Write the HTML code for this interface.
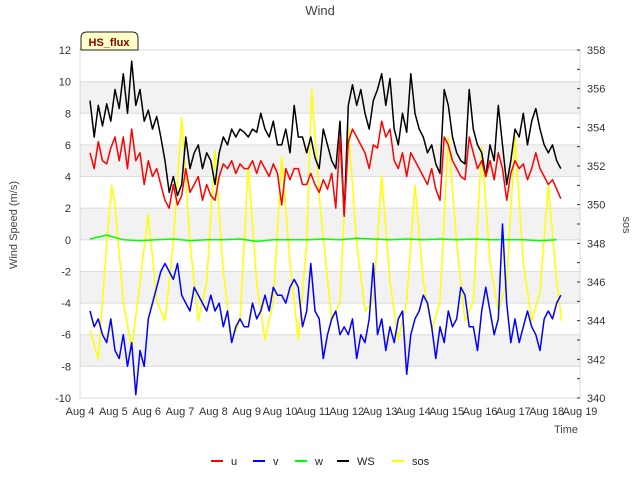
<!DOCTYPE html>
<html><head><meta charset="utf-8"><style>
body{margin:0;background:#fff;}
svg{display:block;font-family:"Liberation Sans","DejaVu Sans",sans-serif;}
</style></head><body>
<svg id="chart" width="640" height="480" viewBox="0 0 640 480">
<text x="320" y="15" text-anchor="middle" font-size="13" fill="#444">Wind</text>
<g id="bands"></g><g id="grid"></g>
<rect x="80" y="50" width="500" height="348" fill="none" stroke="#d8d8d8"/>
<g id="series"></g><g id="axes" font-size="11" fill="#333"></g>
<g>
<path d="M81,50 L81,38 Q81,32 87,32 L132,32 Q138,32 138,38 L138,50 Z" fill="#ffffc8" stroke="#222" stroke-width="1"/>
<text x="109" y="46" text-anchor="middle" font-size="11" font-weight="bold" fill="#8b0000">HS_flux</text>
</g>
<text x="566" y="433" text-anchor="middle" font-size="11" fill="#444">Time</text>
<text transform="translate(17,225) rotate(-90)" text-anchor="middle" font-size="11" fill="#444">Wind Speed (m/s)</text>
<text transform="translate(623,225) rotate(90)" text-anchor="middle" font-size="11" fill="#444">sos</text>
<g id="legend" font-size="11" fill="#222"></g>
</svg>
<script>
const uvStart = 0.3, uvStep = 0.125;
const wsValues = [8.8,6.5,8.5,7.2,8.6,7.5, 9.5,8.3,10.5,8,11.3,8.5,9.5,7.5, 8.2,7,7.8,6.5,5,3,4,2.8, 3.5,6.5,4.5,5.5,6,4.5,5.5,5, 3.5,5.5,6.5,6,7,6.5,7,6.8, 6.5,7,6.8,8,7,6.5,7.5,6, 6,7,5.5,8.5,6.5,6.5,5.5,6.5, 5.2,4.5,7,6,5,4.5,7.5,1.5, 8.5,9.8,8.5,9.5,8,7,8.8,9.5, 10.5,8.5,10.2,7,6,8,6.8,10.5, 8,7,6.5,5.5,6,4.8,4.2,9.5, 8.5,6.5,5.5,5,4.8,9.5,7,6, 5.5,4,6,5,8.5,6,3.5,5, 7,6.5,8,6,7.5,8.3,7,6, 5.5,6,5,4.5];
const uValues = [5.5,4.5,6.2,5,4.8,5.8, 6.5,5,6.5,4.5,7,5,5.5,3.5, 5,4,4.5,3.5,2.5,2,3.5,2.2, 2.8,4.5,3,3.5,4,2.5,3.5,2.8, 2.5,4,4.8,4.5,5,4.2,4.8,4.5, 4.5,5,4.2,5,4.5,4,4.8,4.2, 2.2,4.5,3.8,4.5,4.5,3.5,3.5,4.2, 3.5,3,3.8,3.2,4.2,2,6.5,1.5, 6.2,7,6.5,6,5.5,4.5,6,5.8, 7.5,6.5,7,5,4.5,5.5,4,5.5, 5,4.5,4,3.5,4.5,3.2,2.5,6.5, 6,5,4.5,4,3.8,6.5,5.5,4.5, 5,4,5,3.8,5.5,4.5,2.5,4.2, 5,4.5,4.8,3.8,4.5,5.5,4.5,4, 3.5,3.8,3.2,2.6];
const vValues = [-4.5,-5.5,-5,-6,-6.5,-5, -7,-7.5,-6,-8,-6.5,-9.8,-7,-8, -5,-4,-3,-2,-1.5,-2,-2.5,-1.5, -3.5,-4,-4.5,-3,-3.5,-4,-4.5,-3.5, -4.5,-4,-5.5,-4.5,-6.5,-5.5,-5,-5.5, -5.5,-4,-5,-4.5,-3.5,-4.5,-3,-3.5, -3.5,-4,-3,-2.5,-3,-5.5,-4.5,-1.5, -4.5,-5,-7.5,-6,-5,-4.5,-6,-5.5, -6,-5,-7.5,-6,-6.5,-5,-1.5,-6, -5,-7,-5.5,-6.5,-5,-4.5,-8.5,-6, -5,-4.5,-3.5,-4,-5.5,-7.5,-5.5,-6.5, -4.5,-5.5,-5,-3,-3.5,-5.5,-5.5,-7, -4.5,-3,-4.5,-6,-5,1,-4,-6.5, -5,-6.5,-5.5,-4.5,-5.5,-6,-7,-5, -4.5,-5,-4,-3.5];
const wStart = 0.3, wStep = 0.5;
const wValues = [0.05,0.3,0,-0.05,0,0.05,-0.05,0,0,0.05,-0.1,0,0,0,0.05,0,0.1,0.05,0,0.05,0,0.05,0,0.05,0,0,0,-0.05,0];
const sosTimes = [0.3,0.55,0.8,0.95,1.05,1.3,1.55,1.8,2.05,2.3,2.55,2.8,3.05,3.3,3.55,3.8,4.05,4.3,4.55,4.8,5.05,5.3,5.55,5.8,6.05,6.3,6.55,6.8,6.95,7.2,7.55,7.8,8.05,8.3,8.55,8.8,9.05,9.3,9.55,9.8,10.05,10.3,10.55,10.8,11.05,11.3,11.55,11.8,12.05,12.3,12.55,12.8,13.05,13.3,13.55,13.8,14.05,14.3,14.45];
const sosValues = [343.5,342,348,351,350,345,342.5,346,349.5,345,344,348,354.5,348,344,346,352.8,346.5,343,344,352,346,343,345,352.5,347,343,348,356,350,344,345,354,348,344.5,345,351.5,346,343,345,351,346,343.5,345,353.5,348,344,345,353,347,344.5,346,353.5,347,344,345.5,351,346,344];
const leftTicks = [-10,-8,-6,-4,-2,0,2,4,6,8,10,12];
const rightTicks = [340,342,344,346,348,350,352,354,356,358];
const xTickLabels = ["Aug 4","Aug 5","Aug 6","Aug 7","Aug 8","Aug 9","Aug 10","Aug 11","Aug 12","Aug 13","Aug 14","Aug 15","Aug 16","Aug 17","Aug 18","Aug 19"];
const shadedBands = [[8,10],[4,6],[0,2],[-4,-2],[-8,-6]];

const NS="http://www.w3.org/2000/svg";
const X0=80,X1=580,Y0=50,Y1=398;
const xs=t=>X0+(t/15)*(X1-X0);
const yl=v=>Y1-(v+10)/22*(Y1-Y0);
const yr=v=>Y1-(v-340)/18*(Y1-Y0);
function mk(tag,attrs,parent){const e=document.createElementNS(NS,tag);for(const k in attrs)e.setAttribute(k,attrs[k]);parent.appendChild(e);return e;}
const bands=document.getElementById('bands'),grid=document.getElementById('grid'),ser=document.getElementById('series'),axes=document.getElementById('axes'),leg=document.getElementById('legend');
shadedBands.forEach(b=>{const r=mk('rect',{x:X0,y:yl(b[1]),width:X1-X0,height:yl(b[0])-yl(b[1]),fill:'#f2f2f2'},bands);

});
leftTicks.forEach(v=>{const l=mk('line',{x1:X0,x2:X1,y1:yl(v),y2:yl(v),stroke:'#dcdcdc'},grid);


const t=mk('text',{x:71,y:yl(v)+4,'text-anchor':'end'},axes);t.textContent=v;

});
rightTicks.forEach(v=>{const t=mk('text',{x:587,y:yr(v)+4},axes);t.textContent=v;


mk('line',{x1:X1-3,x2:X1,y1:yr(v),y2:yr(v),stroke:'#333'},axes);
if(v<358)mk('line',{x1:X1-3,x2:X1,y1:yr(v+1),y2:yr(v+1),stroke:'#333'},axes);});
xTickLabels.forEach((s,i)=>{const t=mk('text',{x:xs(i),y:415,'text-anchor':'middle'},axes);t.textContent=s;

});
function line(times,vals,yf,color,name){const d=vals.map((v,i)=>(i?'L':'M')+xs(times[i]).toFixed(1)+','+yf(v).toFixed(1)).join('');
const p=mk('path',{d:d,fill:'none',stroke:color,'stroke-width':1.5,'stroke-linejoin':'round'},ser);

}
const uvT=uValues.map((_,i)=>uvStart+i*uvStep);
const wT=wValues.map((_,i)=>wStart+i*wStep);
line(sosTimes,sosValues,yr,'#ffff00','sos-line');
line(wT,wValues,yl,'#00ff00','w-line');
line(uvT,vValues,yl,'#0000ff','v-line');
line(uvT,wsValues,yl,'#000000','ws-line');
line(uvT,uValues,yl,'#ff0000','u-line');
const legItems=[['u','#ff0000',211],['v','#0000ff',253],['w','#00ff00',295],['WS','#000000',337],['sos','#ffff00',392]];
legItems.forEach(it=>{const g=mk('g',{},leg);


mk('line',{x1:it[2],x2:it[2]+12,y1:461,y2:461,stroke:it[1],'stroke-width':2},g);
const t=mk('text',{x:it[2]+20,y:465},g);t.textContent=it[0];});
</script>
</body></html>
